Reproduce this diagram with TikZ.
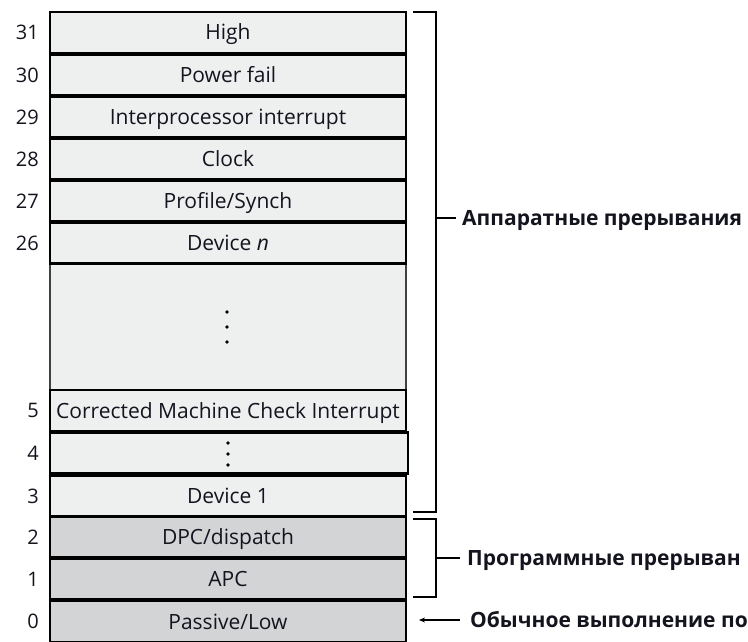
\documentclass[tikz,border=0pt]{standalone}
\usepackage{fontspec}
\setmainfont{Open Sans}
\usetikzlibrary{arrows.meta}
\definecolor{hwfill}{RGB}{238,240,240}
\definecolor{swfill}{RGB}{211,212,214}
\definecolor{ink}{RGB}{20,20,30}
\begin{document}
\begin{tikzpicture}[x=1pt,y=-1pt,
  lvl/.style={draw=black, line width=2.2pt, fill=hwfill, minimum width=356pt,
    minimum height=41pt, inner sep=0pt, text height=15pt, text depth=0pt,
    text=ink, font=\fontsize{21}{24}\selectfont},
  swlvl/.style={lvl, fill=swfill},
  num/.style={anchor=east, inner sep=0pt, text height=14.5pt, text depth=0pt,
    text=ink, font=\fontsize{20}{24}\selectfont},
  grp/.style={anchor=west, inner sep=0pt, text height=15pt, text depth=0pt,
    text=ink, font=\bfseries\fontsize{21}{24}\selectfont},
  brk/.style={draw=black, line width=2pt},
  vdots/.style={fill=black, circle, inner sep=0pt, minimum size=3.6pt}]
\useasboundingbox (0,0) rectangle (748,642);
\clip (0,0) rectangle (748,642);

% tall filler block between levels 26 and 5
\node[draw=black!75, line width=1.2pt, fill=hwfill, minimum width=356pt,
  minimum height=127pt, inner sep=0pt] (gap) at (228,327) {};
\node[vdots] (g1) at (227,312) {};
\node[vdots] (g2) at (227,327) {};
\node[vdots] (g3) at (227,342) {};

% interrupt request levels
\node[lvl] (r31) at (228,32.5) {High};
\node[lvl] (r30) at (228,75) {Power fail};
\node[lvl] (r29) at (228,117) {Interprocessor interrupt};
\node[lvl] (r28) at (228,159) {Clock};
\node[lvl] (r27) at (228,201) {Profile/Synch};
\node[lvl] (r26) at (228,243) {Device \textit{n}};
\node[lvl] (r5)  at (228,410.5) {Corrected Machine Check Interrupt};
\node[lvl, minimum width=358pt] (r4) at (229,453) {};
\node[vdots] (d1) at (228,443) {};
\node[vdots] (d2) at (228,454) {};
\node[vdots] (d3) at (228,465) {};
\node[lvl] (r3)  at (228,496) {Device 1};
\node[swlvl] (r2) at (228,537) {DPC/dispatch};
\node[swlvl] (r1) at (228,579) {APC};
\node[swlvl] (r0) at (228,621.5) {Passive/Low};

% level numbers
\foreach \n in {31,30,29,28,27,26,5,4,3,2,1,0}
  \node[num] (n\n) at ([xshift=-10pt]r\n.west) {\n};

% group labels
\node[grp] (hw) at (462,218) {Аппаратные прерывания};
\node[grp] (sw) at (467,558) {Программные прерыван};
\node[grp] (th) at (470,620) {Обычное выполнение по};

% brackets
\coordinate (h1) at (413,12);
\coordinate (h2) at (413,512);
\coordinate (hm) at (436,218);
\draw[brk] (h1) -| (436,512) -- (h2);
\draw[brk] (hm) -- ([xshift=-6pt]hw.west);
\coordinate (s1) at (413,519);
\coordinate (s2) at (413,597);
\coordinate (sm) at (436,558);
\draw[brk] (s1) -| (436,597) -- (s2);
\draw[brk] (sm) -- ([xshift=-7pt]sw.west);

% arrow to the passive level
\coordinate (ta) at (419,620);
\draw[line width=1.6pt, -{Stealth[length=6pt,width=5pt]}] ([xshift=-10pt]th.west) -- (ta);
\end{tikzpicture}
\end{document}
